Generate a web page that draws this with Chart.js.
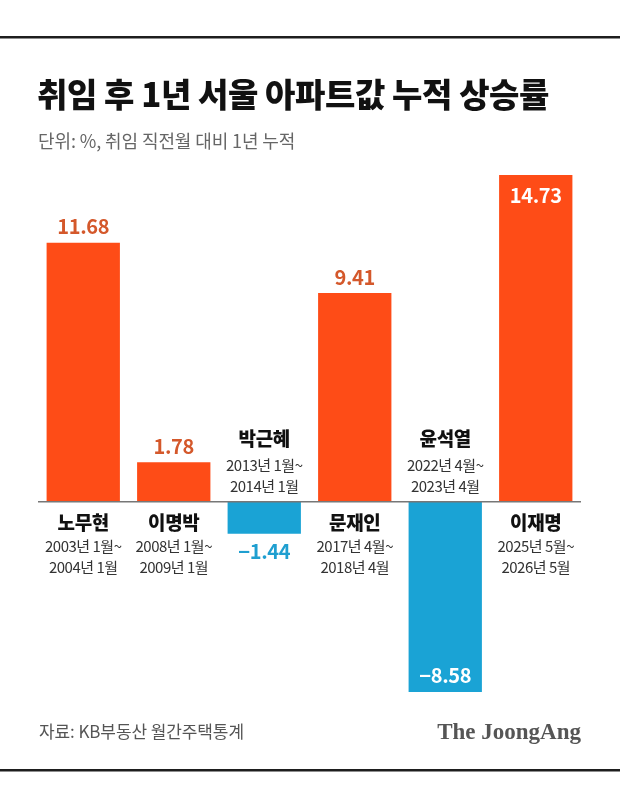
<!DOCTYPE html>
<html>
<head>
<meta charset="utf-8">
<script src="https://cdn.jsdelivr.net/npm/chart.js@4.4.1/dist/chart.umd.min.js"></script>
<style>
  html, body { margin: 0; padding: 0; background: #fff; }
  #wrap { width: 620px; height: 793px; position: relative; }
</style>
</head>
<body>
<div id="wrap"><canvas id="bar-chart" width="620" height="793"></canvas></div>
<script>
// data
const names = ["노무현", "이명박", "박근혜", "문재인", "윤석열", "이재명"];
const periods = [
  ["2003년 1월~", "2004년 1월"],
  ["2008년 1월~", "2009년 1월"],
  ["2013년 1월~", "2014년 1월"],
  ["2017년 4월~", "2018년 4월"],
  ["2022년 4월~", "2023년 4월"],
  ["2025년 5월~", "2026년 5월"]
];
const values = [11.68, 1.78, -1.44, 9.41, -8.58, 14.73];

const title = "취임 후 1년 서울 아파트값 누적 상승률";
const subtitle = "단위: %, 취임 직전월 대비 1년 누적";
const source = "자료: KB부동산 월간주택통계";
const logo = "The JoongAng";

const ORANGE = "#fe4c17";
const BLUE = "#1aa3d5";
const KR = "'Noto Sans CJK KR', 'Noto Sans', sans-serif";

const decor = {
  id: 'decor',
  beforeDraw(chart) {
    const ctx = chart.ctx;
    ctx.save();
    ctx.fillStyle = '#fff';
    ctx.fillRect(0, 0, chart.width, chart.height);
    // frame lines
    ctx.fillStyle = '#1e1e1e';
    ctx.fillRect(0, 36, chart.width, 2.5);
    ctx.fillRect(0, 769, chart.width, 2.5);
    // title + subtitle
    ctx.textBaseline = 'middle';
    ctx.textAlign = 'left';
    ctx.fillStyle = '#111';
    ctx.font = "900 33px " + KR;
    ctx.letterSpacing = "-0.4px";
    ctx.fillText(title, 37, 94);
    ctx.fillStyle = '#666';
    ctx.font = "18px " + KR;
    ctx.letterSpacing = "-0.1px";
    ctx.fillText(subtitle, 38, 141);
    // source + logo
    ctx.fillStyle = '#555';
    ctx.font = "17px " + KR;
    ctx.letterSpacing = "-0.1px";
    ctx.fillText(source, 39, 732);
    ctx.letterSpacing = "0px";
    ctx.textAlign = 'right';
    ctx.font = "bold 23px 'Liberation Serif', 'DejaVu Serif', serif";
    ctx.fillText(logo, 581, 733);
    ctx.restore();
  },
  afterDatasetsDraw(chart) {
    const ctx = chart.ctx;
    const area = chart.chartArea;
    const y0 = chart.scales.y.getPixelForValue(0);
    ctx.save();
    // baseline
    ctx.strokeStyle = '#777';
    ctx.lineWidth = 1.5;
    ctx.beginPath();
    ctx.moveTo(area.left, y0);
    ctx.lineTo(area.right, y0);
    ctx.stroke();

    ctx.textAlign = 'center';
    ctx.textBaseline = 'middle';
    chart.getDatasetMeta(0).data.forEach((bar, i) => {
      const v = values[i];
      const pos = v >= 0;
      const atEdge = pos ? bar.y <= area.top + 1 : bar.y >= area.bottom - 1;
      // value label
      ctx.font = "bold 20px " + KR;
      ctx.letterSpacing = "-0.3px";
      const txt = v.toFixed(2).replace('-', '−');
      let ly;
      if (atEdge) {
        ctx.fillStyle = '#fff';
        ly = pos ? bar.y + 20 : bar.y - 17;
      } else {
        ctx.fillStyle = pos ? '#d4582b' : '#1f9fd0';
        ly = pos ? bar.y - 16 : bar.y + 18;
      }
      ctx.fillText(txt, bar.x, ly);
      // category name + period, on the side opposite the bar
      const ny = pos ? y0 + 21 : y0 - 63;
      const d1 = pos ? y0 + 45 : y0 - 36;
      ctx.fillStyle = '#111';
      ctx.font = "900 19px " + KR;
      ctx.letterSpacing = "-0.3px";
      ctx.fillText(names[i], bar.x, ny);
      ctx.fillStyle = '#333';
      ctx.font = "15px " + KR;
      ctx.letterSpacing = "-0.5px";
      ctx.fillText(periods[i][0], bar.x, d1);
      ctx.fillText(periods[i][1], bar.x, d1 + 21);
    });
    ctx.restore();
  }
};

new Chart(document.getElementById("bar-chart"), {
  type: 'bar',
  data: {
    labels: names,
    datasets: [{
      data: values,
      backgroundColor: values.map(v => v >= 0 ? ORANGE : BLUE),
      borderWidth: 0,
      categoryPercentage: 1,
      barPercentage: 0.81
    }]
  },
  options: {
    responsive: false,
    animation: false,
    layout: { padding: { left: 38, right: 39, top: 175, bottom: 101 } },
    scales: {
      x: { display: false },
      y: { display: false, min: Math.min(...values), max: Math.max(...values) }
    },
    plugins: {
      legend: { display: false },
      tooltip: { enabled: false }
    }
  },
  plugins: [decor]
});
</script>
</body>
</html>
